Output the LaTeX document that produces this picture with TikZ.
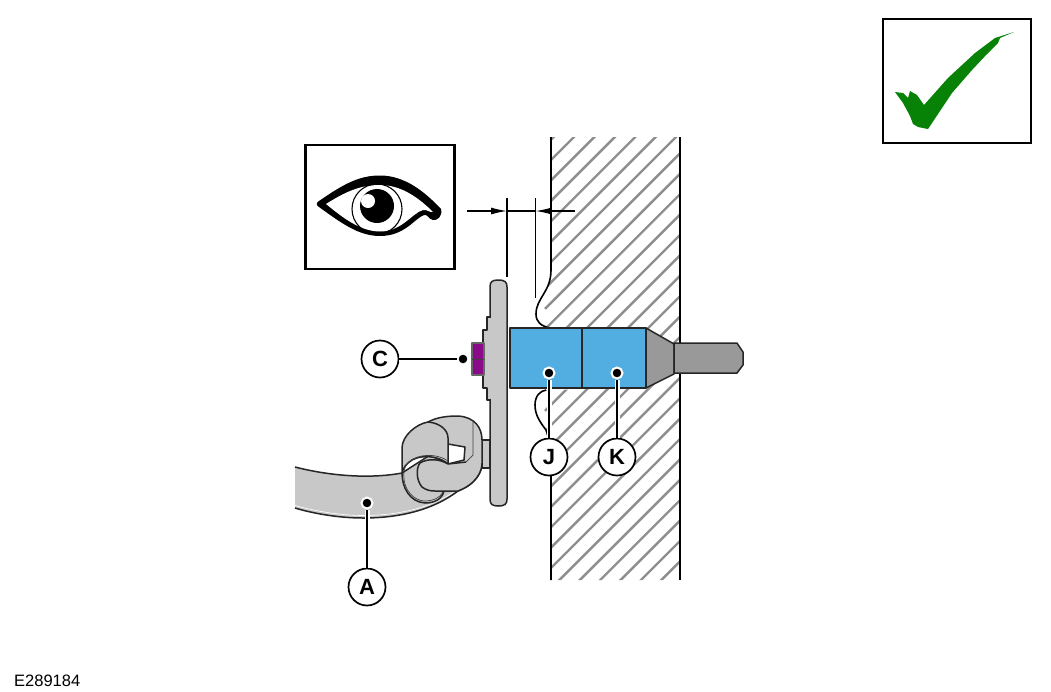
\documentclass[tikz,border=0pt]{standalone}
\usepackage{fontspec}
\usetikzlibrary{arrows.meta}
\setmainfont{Liberation Sans}
\definecolor{pinblue}{HTML}{52ADE1}
\definecolor{partgrey}{HTML}{C8C8C8}
\definecolor{darkgrey}{HTML}{999999}
\definecolor{hatchgrey}{HTML}{8E8E8E}
\definecolor{nutpurple}{HTML}{8A0A8A}
\definecolor{tickgreen}{HTML}{078207}
\tikzset{
  part/.style={draw=black!85, line width=1.5pt, line join=round},
  thinline/.style={draw=black!75, line width=.7pt},
  wallline/.style={line width=1.6pt},
  callout/.style={draw, circle, fill=white, line width=1.7pt, minimum size=37pt, inner sep=0pt, font=\fontsize{22}{22}\selectfont\bfseries},
  leaddot/.style={circle, fill=black, draw=white, line width=2pt, minimum size=11pt, inner sep=0pt},
  leader/.style={line width=1.6pt, preaction={draw=white, line width=5pt}},
  frame/.style={draw, line width=2.2pt},
  dimline/.style={line width=1.3pt},
}
\begin{document}
\begin{tikzpicture}[x=1pt,y=-1pt]
    \useasboundingbox (0,0) rectangle (1051,691);

    % wall
    \begin{scope}
      \clip (551,137) -- (680,137) -- (680,580) -- (551,580) -- (551,445) -- (546,430)
        .. controls (540,422) and (535,415) .. (535,405) .. controls (535,396) and (540,391) .. (546,390)
        -- (646,388) -- (674,374) -- (680,374) -- (680,344) -- (674,344) -- (646,328)
        -- (550,328) .. controls (541,326) and (536,322) .. (536,314)
        .. controls (536,298) and (551,292) .. (551,270) -- cycle;
      \foreach \k in {-1,...,28}
        \draw[hatchgrey, line width=2.4pt] (545,160+20.4*\k+6) -- (690,160+20.4*\k-139);
    \end{scope}
    \draw[wallline] (551,137) -- (551,270) .. controls (551,292) and (536,298) .. (536,314)
      .. controls (536,322) and (541,326) .. (550,328);
    \draw[wallline] (546,390) .. controls (540,391) and (535,396) .. (535,405)
      .. controls (535,415) and (540,422) .. (546,430) -- (551,445) -- (551,580);
    \draw[wallline] (680,137) -- (680,580);

    % pin
    \draw[part, fill=darkgrey] (646,328) -- (674,344) -- (674,374) -- (646,388) -- cycle;
    \draw[part, fill=darkgrey] (674,343) -- (737,343) -- (743,352) -- (743,365) -- (737,373) -- (674,373) -- cycle;
    \draw[part, fill=pinblue] (510,328) rectangle (582,388);
    \draw[part, fill=pinblue] (582,328) rectangle (646,388);

    % strap
    \draw[part, fill=partgrey] (295,467) .. controls (330,476) and (370,479) .. (402,473)
      -- (458,491) .. controls (430,512) and (395,518) .. (363,518)
      .. controls (340,518) and (315,514) .. (295,508);
    \draw[white, line width=.6pt] (295,505.5) .. controls (315,511) and (340,515.5) .. (363,515.5)
      .. controls (395,515.5) and (430,509) .. (455,491);
    \draw[part, fill=partgrey] (482,440) rectangle (490,468);
    \draw[part, fill=partgrey] (428,422) .. controls (437,417) and (448,416) .. (458,416)
      .. controls (475,417) and (482,428) .. (482,440) -- (482,463)
      .. controls (482,472) and (476,484) .. (458,491) -- (435,491)
      -- (428,460) -- cycle;
    \draw[part, fill=white] (448,444) -- (465,447) -- (464,460) -- (448,464) -- cycle;
    \draw[thinline] (473,422) -- (473,455) -- (466,462);

    % loop
    \draw[part, fill=partgrey] (402,473) .. controls (402,488) and (410,502) .. (425,503)
      .. controls (435,503) and (442,499) .. (444,491) -- (448,464) -- (430,455) -- cycle;
    \draw[part, fill=partgrey] (402,473) -- (402,448) .. controls (402,436) and (416,424) .. (428,422)
      .. controls (440,423) and (448,430) .. (448,438) -- (448,464)
      .. controls (442,458) and (425,453) .. (412,460) .. controls (406,464) and (403,468) .. (402,473) -- cycle;
    \draw[thinline] (448,461) .. controls (440,455) and (424,453) .. (413,459)
      .. controls (404,464) and (403,472) .. (404,479) .. controls (405,490) and (413,500) .. (424,501)
      .. controls (433,501) and (440,498) .. (443,492);
    \fill[partgrey] (448,464) .. controls (440,459) and (428,458) .. (420,463)
      .. controls (416,468) and (416,480) .. (422,487) .. controls (426,490) and (430,491) .. (435,491)
      -- (458,491) .. controls (476,484) and (482,472) .. (482,463) -- (466,462) -- cycle;
    \draw[part] (466,462) -- (448,464) .. controls (440,459) and (428,458) .. (420,463)
      .. controls (416,468) and (416,480) .. (422,487) .. controls (426,490) and (430,491) .. (435,491)
      -- (458,491) .. controls (476,484) and (482,472) .. (482,463);

    % flange
    \draw[part, fill=partgrey] (492,317) -- (487,317) -- (487,330) -- (483,330) -- (483,388)
      -- (487,388) -- (487,400) -- (492,400) -- cycle;
    \draw[part, fill=partgrey] (490,287) .. controls (490,282) and (492,280) .. (498,280)
      .. controls (505,280) and (507,282) .. (507,287) -- (507,499)
      .. controls (507,504) and (505,506) .. (498,506) .. controls (492,506) and (490,504) .. (490,499) -- cycle;
    \fill[partgrey] (488,318) rectangle (491.5,399);
    \draw[part, fill=nutpurple, draw=black!60] (472,343) rectangle (484,375);
    \draw[thinline] (472,359) -- (484,359);

    % dimension
    \coordinate (extL) at (507,198);
    \coordinate (extLend) at (507,277);
    \coordinate (extR) at (535.5,198);
    \coordinate (extRend) at (535.5,298);
    \coordinate (dimL) at (467,211);
    \coordinate (dimLtip) at (507,211);
    \coordinate (dimR) at (575,211);
    \coordinate (dimRtip) at (535.5,211);
    \draw[dimline] (extL) -- (extLend);
    \draw[dimline] (extR) -- (extRend);
    \draw[dimline] (dimLtip) -- (dimRtip);
    \draw[dimline, -{Latex[length=16pt,width=7pt]}] (dimL) -- (dimLtip);
    \draw[dimline, -{Latex[length=16pt,width=7pt]}] (dimR) -- (dimRtip);

    % eye
    \node[frame, minimum width=149pt, minimum height=124pt, inner sep=0pt] (eyebox) at (380,207) {};
    \fill[line join=round] (319,201) .. controls (345,183) and (360,175.5) .. (380,175.5)
      .. controls (405,175.5) and (425,192) .. (441,209)
      .. controls (443,216) and (437,221) .. (433,220) .. controls (428,219) and (428,214) .. (424,215)
      .. controls (415,218) and (405,236) .. (380,236)
      .. controls (358,236) and (340,222) .. (319,207) .. controls (316,205) and (316,203) .. (319,201) -- cycle;
    \fill[white] (326,204) .. controls (345,192) and (360,185) .. (380,185)
      .. controls (402,185) and (420,199) .. (433,212)
      .. controls (430,213) and (427,209) .. (423,210) .. controls (412,213) and (402,231.5) .. (380,231.5)
      .. controls (360,231.5) and (342,217) .. (326,204) -- cycle;
    \draw[line width=1.1pt] (377,209) circle (25);
    \fill (377,206) circle (17);
    \fill[white] (368,201) circle (7);

    % tick
    \node[frame, minimum width=148pt, minimum height=124pt, inner sep=0pt] (tickbox) at (957,81) {};
    \fill[tickgreen] (895,92) -- (903,93) -- (908,98) -- (910,91) -- (917,95) -- (924,105)
      -- (948,78) -- (975,53) -- (995,38) -- (1014,32) -- (1000,38) -- (998,43)
      -- (988,53) -- (972,70) -- (952,93) -- (928,129) -- (918,127) -- (913,124) -- (910,116) -- (903,103) -- cycle;

    % labels
    \node[leaddot] (dotC) at (463,359) {};
    \node[leaddot] (dotJ) at (549,373) {};
    \node[leaddot] (dotK) at (617,373) {};
    \node[leaddot] (dotA) at (367,503) {};
    \node[callout] (C) at (380,359) {C};
    \node[callout] (J) at (549,457) {J};
    \node[callout] (K) at (617,457) {K};
    \node[callout] (A) at (367,587) {A};
    \draw[leader] (C) -- (dotC);
    \draw[leader] (J) -- (dotJ);
    \draw[leader] (K) -- (dotK);
    \draw[leader] (A) -- (dotA);

    \node[anchor=base west, inner sep=0pt, font=\fontsize{16.5}{16.5}\selectfont] (code) at (14,686) {E289184};
\end{tikzpicture}
\end{document}
